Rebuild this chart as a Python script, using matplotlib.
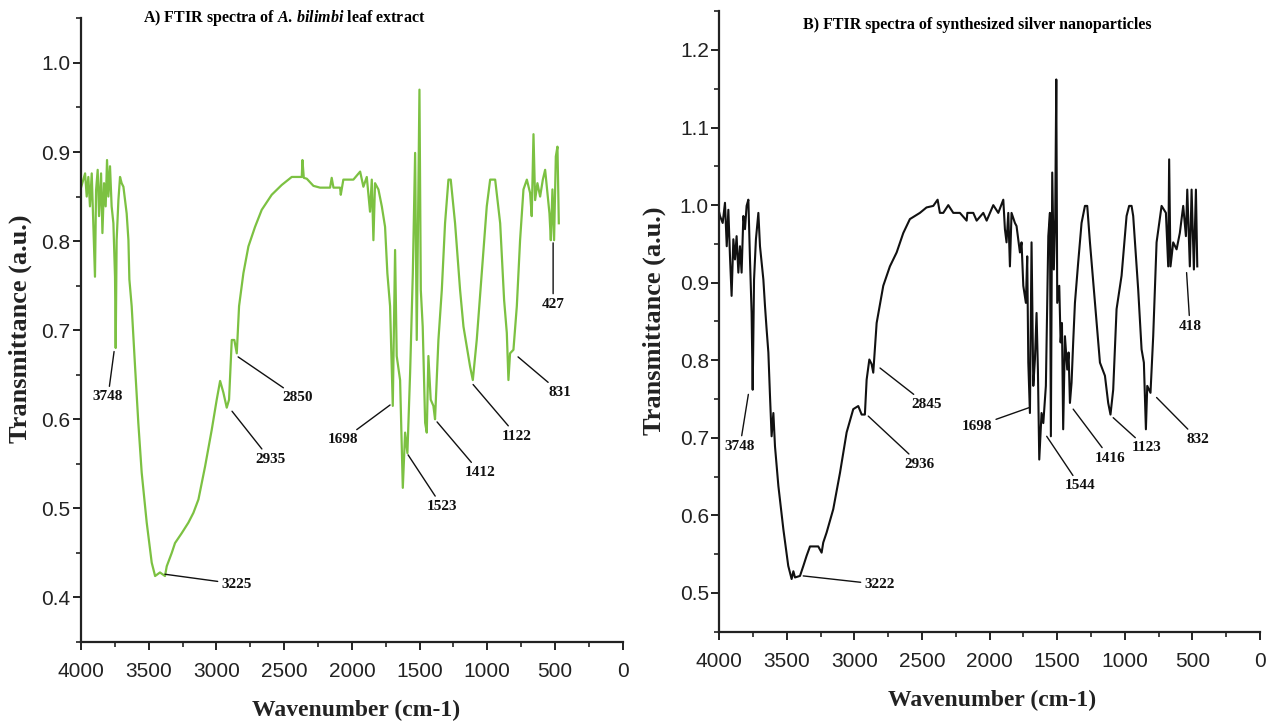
import numpy as np
import matplotlib
matplotlib.use("Agg")
import matplotlib.pyplot as plt
from matplotlib.ticker import MultipleLocator, FormatStrFormatter

plt.rcParams['mathtext.fontset'] = 'custom'
plt.rcParams['mathtext.it'] = 'Liberation Serif:italic:bold'
plt.rcParams['mathtext.rm'] = 'Liberation Serif:bold'

# A) leaf extract spectrum (wavenumber, transmittance)
leaf_wn = [4000, 3970, 3958, 3946, 3934, 3921, 3909, 3897, 3889, 3877, 3867, 3852, 3842, 3830,
           3818, 3808, 3798, 3786, 3774, 3761, 3749, 3744, 3737, 3724, 3712, 3700, 3687, 3675,
           3663, 3650, 3643, 3626, 3601, 3577, 3552, 3515, 3478, 3453, 3417, 3380, 3367, 3330,
           3306, 3257, 3207, 3170, 3133, 3084, 3035, 2998, 2973, 2949, 2924, 2907, 2887, 2868,
           2850, 2833, 2801, 2764, 2715, 2666, 2592, 2518, 2444, 2370, 2365, 2355, 2333, 2284,
           2235, 2161, 2149, 2136, 2087, 2082, 2063, 1989, 1939, 1915, 1890, 1866, 1853, 1841,
           1829, 1804, 1779, 1755, 1738, 1718, 1698, 1681, 1669, 1644, 1624, 1607, 1590, 1570,
           1550, 1533, 1521, 1501, 1491, 1477, 1459, 1447, 1435, 1418, 1398, 1386, 1361, 1336,
           1312, 1287, 1270, 1238, 1201, 1176, 1152, 1127, 1107, 1078, 1041, 1004, 979, 942,
           905, 876, 856, 844, 832, 807, 782, 758, 733, 708, 684, 672, 659, 647, 630, 610, 590,
           573, 556, 541, 531, 519, 507, 494, 482, 472]
leaf_t = [0.860, 0.876, 0.850, 0.872, 0.839, 0.876, 0.816, 0.760, 0.857, 0.880, 0.828, 0.876,
          0.809, 0.865, 0.839, 0.891, 0.850, 0.884, 0.839, 0.820, 0.760, 0.680, 0.801, 0.846,
          0.872, 0.865, 0.861, 0.846, 0.831, 0.801, 0.757, 0.727, 0.659, 0.596, 0.540, 0.484,
          0.439, 0.424, 0.428, 0.424, 0.435, 0.450, 0.461, 0.472, 0.484, 0.495, 0.510, 0.547,
          0.588, 0.622, 0.643, 0.630, 0.613, 0.622, 0.689, 0.689, 0.674, 0.727, 0.764, 0.794,
          0.816, 0.835, 0.852, 0.863, 0.872, 0.872, 0.891, 0.871, 0.870, 0.862, 0.860, 0.860,
          0.871, 0.860, 0.860, 0.852, 0.869, 0.869, 0.878, 0.861, 0.872, 0.833, 0.869, 0.801,
          0.865, 0.858, 0.839, 0.816, 0.764, 0.727, 0.615, 0.790, 0.671, 0.644, 0.523, 0.585,
          0.562, 0.652, 0.764, 0.899, 0.689, 0.970, 0.745, 0.704, 0.596, 0.585, 0.671, 0.622,
          0.615, 0.600, 0.689, 0.745, 0.820, 0.869, 0.869, 0.820, 0.745, 0.704, 0.682, 0.659,
          0.644, 0.689, 0.764, 0.839, 0.869, 0.869, 0.820, 0.734, 0.697, 0.644, 0.674, 0.678,
          0.727, 0.801, 0.858, 0.869, 0.854, 0.828, 0.920, 0.846, 0.865, 0.850, 0.869, 0.880,
          0.854, 0.831, 0.801, 0.858, 0.801, 0.895, 0.906, 0.820]

# B) silver nanoparticle spectrum
agnp_wn = [4000, 3995, 3975, 3958, 3945, 3933, 3921, 3909, 3896, 3884, 3872, 3859, 3847, 3835,
           3822, 3810, 3798, 3785, 3773, 3761, 3753, 3743, 3729, 3711, 3699, 3687, 3674, 3662,
           3650, 3637, 3625, 3613, 3600, 3588, 3563, 3526, 3490, 3465, 3452, 3440, 3403, 3378,
           3354, 3329, 3268, 3243, 3231, 3206, 3157, 3107, 3058, 3009, 2972, 2947, 2923, 2910,
           2890, 2873, 2861, 2836, 2787, 2738, 2688, 2639, 2590, 2516, 2467, 2417, 2385, 2368,
           2343, 2306, 2269, 2220, 2170, 2165, 2121, 2096, 2047, 2022, 1973, 1936, 1899, 1887,
           1875, 1862, 1850, 1838, 1813, 1801, 1776, 1764, 1751, 1732, 1722, 1714, 1702, 1690,
           1677, 1665, 1653, 1643, 1633, 1616, 1603, 1584, 1566, 1554, 1547, 1537, 1525, 1515,
           1507, 1500, 1485, 1475, 1465, 1456, 1443, 1426, 1416, 1406, 1394, 1382, 1369, 1345,
           1320, 1295, 1278, 1258, 1221, 1184, 1147, 1123, 1106, 1086, 1061, 1024, 987, 968,
           950, 938, 901, 876, 859, 844, 834, 810, 790, 765, 728, 696, 679, 672, 662, 642, 617,
           593, 568, 548, 538, 519, 506, 489, 474, 464]
agnp_t = [0.990, 0.986, 0.977, 1.003, 0.947, 0.994, 0.934, 0.883, 0.956, 0.930, 0.960, 0.913,
          0.947, 0.913, 0.986, 0.969, 0.999, 1.007, 0.930, 0.861, 0.762, 0.904, 0.956, 0.990,
          0.947, 0.926, 0.904, 0.870, 0.840, 0.810, 0.754, 0.702, 0.732, 0.689, 0.638, 0.582,
          0.535, 0.518, 0.528, 0.520, 0.522, 0.535, 0.548, 0.560, 0.560, 0.552, 0.565, 0.578,
          0.608, 0.655, 0.707, 0.737, 0.741, 0.730, 0.730, 0.775, 0.801, 0.795, 0.784, 0.848,
          0.896, 0.921, 0.939, 0.964, 0.982, 0.990, 0.997, 0.999, 1.007, 0.990, 0.990, 1.000,
          0.990, 0.990, 0.980, 0.990, 0.990, 0.980, 0.990, 0.980, 1.000, 0.990, 1.007, 0.969,
          0.952, 0.990, 0.921, 0.990, 0.977, 0.973, 0.939, 0.952, 0.896, 0.874, 0.934, 0.797,
          0.732, 0.952, 0.767, 0.801, 0.861, 0.788, 0.672, 0.732, 0.719, 0.767, 0.960, 0.990,
          0.702, 1.042, 0.917, 0.982, 1.162, 0.874, 0.896, 0.823, 0.848, 0.711, 0.831, 0.788,
          0.810, 0.745, 0.771, 0.823, 0.874, 0.926, 0.977, 0.999, 0.999, 0.952, 0.874, 0.797,
          0.780, 0.745, 0.730, 0.762, 0.866, 0.909, 0.986, 0.999, 0.999, 0.986, 0.891, 0.814,
          0.797, 0.711, 0.767, 0.758, 0.831, 0.952, 0.999, 0.990, 0.921, 1.059, 0.921, 0.952,
          0.943, 0.964, 0.999, 0.960, 1.020, 0.921, 1.020, 0.917, 1.020, 0.921]

# peak labels
leaf_peaks = ["3748", "3225", "2935", "2850", "1698", "1523", "1412", "1122", "831", "427"]
agnp_peaks = ["3748", "3222", "2936", "2845", "1698", "1544", "1416", "1123", "832", "418"]

# where the leader line touches the curve / where the label sits (data coords)
leaf_tip = [(3756, 0.676), (3380, 0.426), (2885, 0.609), (2840, 0.670), (1718, 0.616),
            (1585, 0.560), (1371, 0.597), (1105, 0.639), (773, 0.670), (514, 0.798)]
leaf_txt = [(3801, 0.625), (2848, 0.415), (2604, 0.555), (2397, 0.624), (2065, 0.577),
            (1334, 0.502), (1053, 0.540), (780, 0.581), (462, 0.630), (514, 0.729)]
agnp_tip = [(3785, 0.756), (3379, 0.522), (2898, 0.728), (2811, 0.790), (1707, 0.739),
            (1578, 0.702), (1382, 0.737), (1086, 0.726), (765, 0.752), (543, 0.913)]
agnp_txt = [(3847, 0.689), (2811, 0.511), (2516, 0.666), (2466, 0.743), (2096, 0.715),
            (1332, 0.638), (1110, 0.674), (839, 0.687), (459, 0.698), (518, 0.844)]

tick_font = ['Liberation Sans Narrow', 'Liberation Sans', 'DejaVu Sans']
serif = ['Liberation Serif', 'DejaVu Serif']

fig = plt.figure(figsize=(12.74, 7.27), dpi=100)
axA = fig.add_axes([0.0636, 0.117, 0.4252, 0.8577])
axB = fig.add_axes([0.5646, 0.131, 0.4244, 0.8536])

axA.plot(leaf_wn, leaf_t, color='#7cc142', lw=1.6)
axB.plot(agnp_wn, agnp_t, color='#111111', lw=1.5)


def style(ax, ylo, yhi):
    ax.set_xlim(4000, 0)
    ax.set_ylim(ylo, yhi)
    for s in ['top', 'right']:
        ax.spines[s].set_visible(False)
    for s in ['left', 'bottom']:
        ax.spines[s].set_linewidth(1.6)
        ax.spines[s].set_color('#222222')
    ax.xaxis.set_major_locator(MultipleLocator(500))
    ax.xaxis.set_minor_locator(MultipleLocator(250))
    ax.yaxis.set_major_locator(MultipleLocator(0.1))
    ax.yaxis.set_minor_locator(MultipleLocator(0.05))
    ax.yaxis.set_major_formatter(FormatStrFormatter('%.1f'))
    ax.tick_params(which='major', length=5.5, width=1.4, color='#222222')
    ax.tick_params(which='minor', length=3.5, width=1.2, color='#222222')
    ax.tick_params(axis='x', which='major', pad=9)
    ax.tick_params(axis='y', which='major', pad=2)
    for lab in ax.get_xticklabels() + ax.get_yticklabels():
        lab.set_family(tick_font)
        lab.set_fontsize(15)
        lab.set_color('#222222')


style(axA, 0.35, 1.05)
style(axB, 0.45, 1.25)


def label_peaks(ax, names, tips, txts):
    for name, tip, txt in zip(names, tips, txts):
        ax.annotate(name, xy=tip, xytext=txt, ha='center', va='center',
                    family=serif, fontweight='bold', fontsize=11, color='#111111',
                    arrowprops=dict(arrowstyle='-', color='#111111', lw=1.0,
                                    shrinkA=1, shrinkB=0))


label_peaks(axA, leaf_peaks, leaf_tip, leaf_txt)
label_peaks(axB, agnp_peaks, agnp_tip, agnp_txt)

fig.text(0.223, 0.975, r"A) FTIR spectra of $\mathit{A.\,bilimbi}$ leaf extract",
         ha='center', va='center', family=serif, fontweight='bold', fontsize=11.5)
fig.text(0.767, 0.9656, "B) FTIR spectra of synthesized silver nanoparticles",
         ha='center', va='center', family=serif, fontweight='bold', fontsize=11.5)

for x, y in [(0.0157, 0.5475), (0.5133, 0.5585)]:
    fig.text(x, y, "Transmittance (a.u.)", rotation=90, ha='center', va='center',
             family=serif, fontweight='bold', fontsize=19, color='#222222')
for x, y in [(0.2794, 0.0234), (0.7786, 0.0371)]:
    fig.text(x, y, "Wavenumber (cm-1)", ha='center', va='center',
             family=serif, fontweight='bold', fontsize=17, color='#222222')

fig.savefig("out.png", dpi=100)
